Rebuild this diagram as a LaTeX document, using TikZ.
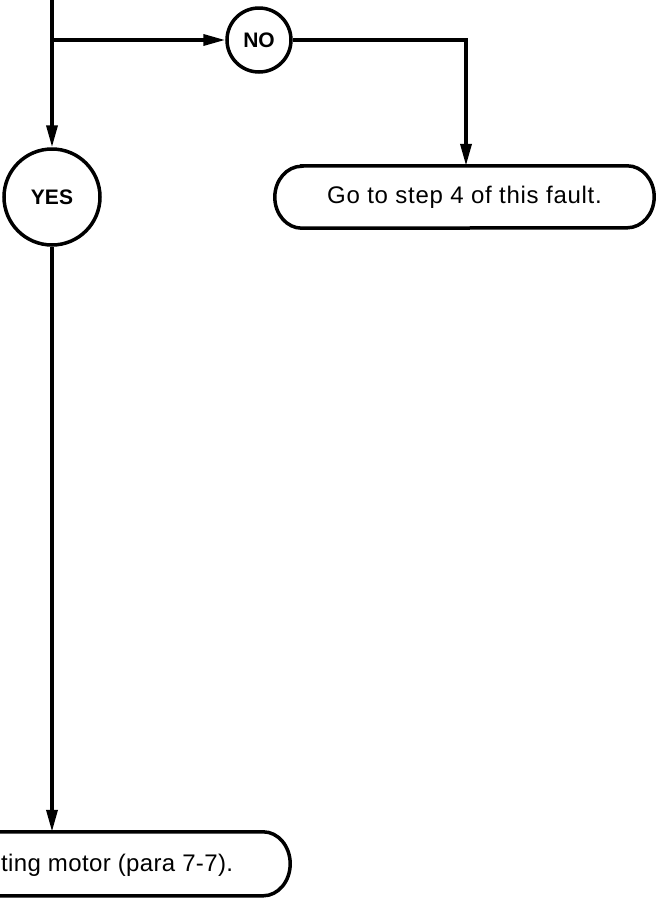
\documentclass[tikz,border=0pt]{standalone}
\usepackage{fontspec}
\setmainfont{Liberation Sans}
\usetikzlibrary{arrows.meta}
\tikzset{
  conn/.style={line width=3.5pt},
  arr/.style={conn,-{Triangle[length=22pt,width=11pt]}},
  decision/.style={circle,draw,line width=3.5pt,inner sep=0pt,font=\bfseries\fontsize{21}{24}\selectfont},
  boxframe/.style={inner sep=0pt},
  boxline/.style={line width=3.5pt},
  boxtext/.style={inner sep=0pt,font=\addfontfeature{LetterSpace=3}\fontsize{24}{28}\selectfont},
  boxtextb/.style={inner sep=0pt,font=\addfontfeature{LetterSpace=1.5}\fontsize{24}{28}\selectfont},
}
\begin{document}
\begin{tikzpicture}[x=1pt,y=-1pt]
\useasboundingbox (0,0) rectangle (658,898);
\clip (0,0) rectangle (658,898);
% nodes
\coordinate (start) at (52,-10);
\coordinate (split) at (52,40);
\node[decision,minimum size=64pt] (no) at (259,40) {NO};
\node[decision,minimum size=96pt] (yes) at (52,197) {YES};
\coordinate (turn) at (466,40);
\node[boxframe,minimum width=379pt,minimum height=62pt] (b1) at (464.5,197) {};
\node[boxtext] (t1) at (b1.center) {Go to step 4 of this fault.};
\node[boxframe,minimum width=660pt,minimum height=64pt] (b2) at (-40,864) {};
\node[boxtextb,anchor=west] (t2) at (1,865) {ting motor (para 7-7).};
% box outlines
\draw[boxline] ([xshift=27pt]b1.north west) -- ([xshift=-27pt]b1.north east)
  arc[start angle=90,end angle=-90,x radius=27pt,y radius=31pt]
  -- ([xshift=27pt]b1.south west)
  arc[start angle=270,end angle=90,x radius=27pt,y radius=31pt] -- cycle;
\draw[boxline] ([xshift=27pt]b2.north west) -- ([xshift=-27pt]b2.north east)
  arc[start angle=90,end angle=-90,x radius=27pt,y radius=32pt]
  -- ([xshift=27pt]b2.south west)
  arc[start angle=270,end angle=90,x radius=27pt,y radius=32pt] -- cycle;
% connectors
\draw[arr] (start) -- (yes.north);
\draw[arr] (split) -- (no.west);
\draw[arr] (no.east) -- (turn) -- (turn |- b1.north);
\draw[arr] (yes.south) -- (yes.south |- b2.north);
\end{tikzpicture}
\end{document}
